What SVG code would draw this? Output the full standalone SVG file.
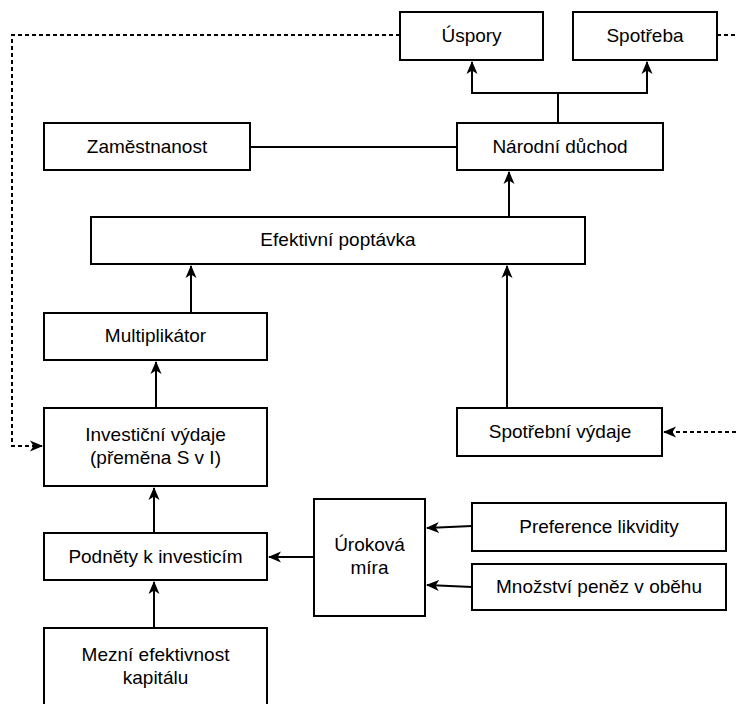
<svg xmlns="http://www.w3.org/2000/svg" width="736" height="704" viewBox="0 0 736 704">
<defs>
<marker id="arr" viewBox="0 0 13 12" refX="12" refY="6" markerWidth="13" markerHeight="12" markerUnits="userSpaceOnUse" orient="auto">
<path d="M0,0.5 L13,6 L0,11.5 L3.5,6 Z" fill="#000"/>
</marker>
<style>
.box{fill:#fff;stroke:#000;stroke-width:2}
.t{font-family:"Liberation Sans",Arial,Helvetica,sans-serif;font-size:19px;fill:#000;text-anchor:middle}
.c{fill:none;stroke:#000;stroke-width:2}
.d{fill:none;stroke:#000;stroke-width:2;stroke-dasharray:4 3}
</style>
</defs>
<rect width="736" height="704" fill="#fff"/>
<g id="connectors">
<path class="d" d="M400,35 L12,35 L12,446 L42,446" marker-end="url(#arr)"/>
<path class="d" d="M717,35 L745,35 L745,432 L664,432" marker-end="url(#arr)"/>
<path class="c" d="M558,123 L558,93 L472,93 L472,62" marker-end="url(#arr)"/>
<path class="c" d="M558,93 L647,93 L647,62" marker-end="url(#arr)"/>
<path class="c" d="M250,147 L457,147"/>
<path class="c" d="M509,217 L509,172" marker-end="url(#arr)"/>
<path class="c" d="M191,313 L191,266" marker-end="url(#arr)"/>
<path class="c" d="M507,408 L507,266" marker-end="url(#arr)"/>
<path class="c" d="M156,408 L156,362" marker-end="url(#arr)"/>
<path class="c" d="M154,533 L154,488" marker-end="url(#arr)"/>
<path class="c" d="M154,628 L154,582" marker-end="url(#arr)"/>
<path class="c" d="M314,557 L269,557" marker-end="url(#arr)"/>
<path class="c" d="M472,526 L427,528" marker-end="url(#arr)"/>
<path class="c" d="M472,587 L427,585" marker-end="url(#arr)"/>
</g>
<g id="uspory"><rect class="box" x="400" y="12" width="143" height="48"/><text class="t" x="471.5" y="42">Úspory</text></g>
<g id="spotreba"><rect class="box" x="573" y="12" width="144" height="48"/><text class="t" x="645" y="42">Spotřeba</text></g>
<g id="zamestnanost"><rect class="box" x="44" y="123" width="206" height="47"/><text class="t" x="147" y="153">Zaměstnanost</text></g>
<g id="narodni-duchod"><rect class="box" x="457" y="123" width="206" height="47"/><text class="t" x="560" y="153">Národní důchod</text></g>
<g id="efektivni-poptavka"><rect class="box" x="91" y="217" width="494" height="47"/><text class="t" x="338" y="246">Efektivní poptávka</text></g>
<g id="multiplikator"><rect class="box" x="44" y="313" width="223" height="47"/><text class="t" x="155.5" y="342">Multiplikátor</text></g>
<g id="investicni-vydaje"><rect class="box" x="44" y="408" width="223" height="78"/><text class="t" x="155.5" y="441">Investiční výdaje</text><text class="t" x="155.5" y="464">(přeměna S v I)</text></g>
<g id="spotrebni-vydaje"><rect class="box" x="457" y="408" width="205" height="48"/><text class="t" x="560" y="438">Spotřební výdaje</text></g>
<g id="podnety"><rect class="box" x="44" y="533" width="223" height="47"/><text class="t" x="155.5" y="563">Podněty k investicím</text></g>
<g id="urokova-mira"><rect class="box" x="314" y="499" width="111" height="117"/><text class="t" x="369.5" y="551">Úroková</text><text class="t" x="369.5" y="574">míra</text></g>
<g id="preference-likvidity"><rect class="box" x="472" y="503" width="254" height="48"/><text class="t" x="599" y="533">Preference likvidity</text></g>
<g id="mnozstvi-penez"><rect class="box" x="472" y="564" width="254" height="46"/><text class="t" x="599" y="593">Množství peněz v oběhu</text></g>
<g id="mezni-efektivnost"><rect class="box" x="44" y="628" width="223" height="100"/><text class="t" x="155.5" y="661">Mezní efektivnost</text><text class="t" x="155.5" y="684">kapitálu</text></g>
</svg>
